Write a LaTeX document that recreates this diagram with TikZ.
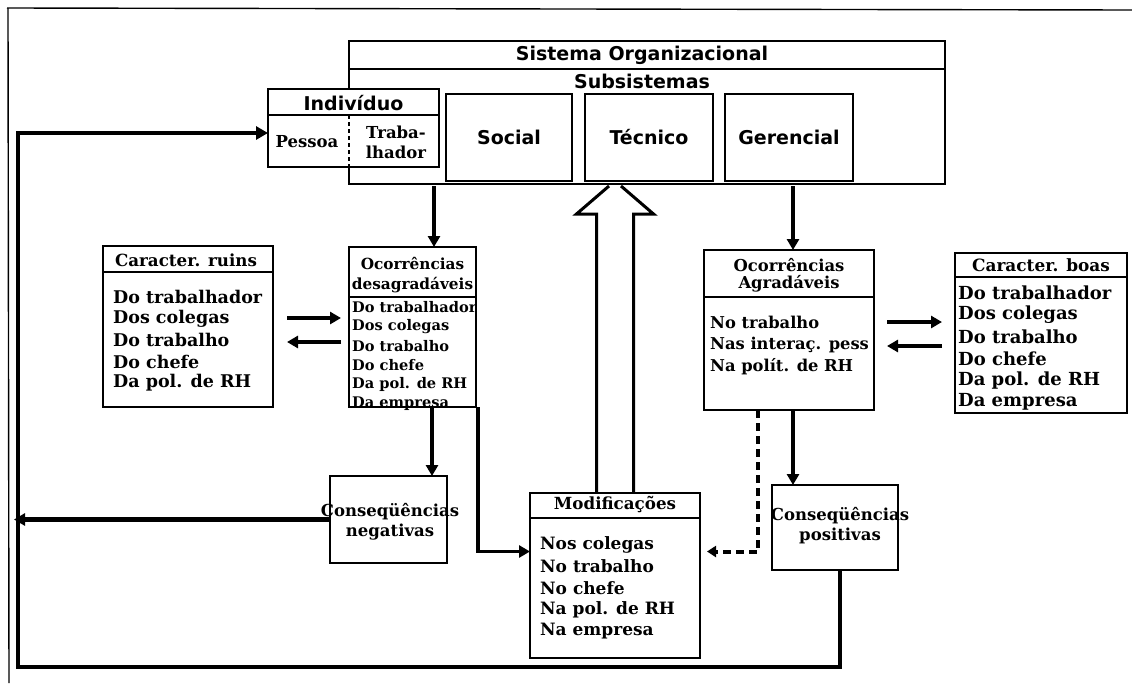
\documentclass[tikz,border=0pt]{standalone}
\usepackage{fontspec}
\newfontfamily\sansfam{DejaVu Sans}
\newfontfamily\serfam{DejaVu Serif}
\usetikzlibrary{arrows.meta,calc}

\tikzset{
  box/.style={draw, line width=2pt, fill=white, inner sep=0pt, outer sep=0pt},
  rule/.style={line width=2pt},
  arr/.style={line width=3.5pt, -{Triangle[length=11pt,width=12pt]}},
  loopline/.style={line width=4.5pt, -{Triangle[length=12pt,width=13pt]}},
  dashline/.style={line width=4pt, dash pattern=on 8pt off 5pt, -{Triangle[length=9pt,width=11pt]}},
  hollow/.style={line width=3pt, line join=miter},
  sanst/.style={font=\sansfam\bfseries\fontsize{19}{21}\selectfont, inner sep=0pt},
  ser/.style={font=\serfam\bfseries\fontsize{#1}{20}\selectfont, inner sep=0pt},
  item/.style={ser=#1, anchor=west},
}

\begin{document}
\begin{tikzpicture}[x=1pt,y=-1pt]
\useasboundingbox (0,0) rectangle (1132,683);

% outer frame (top and left edges)
\draw[line width=1.4pt] (7,8) -- (1132,10);
\draw[line width=1.4pt] (8,8) -- (9,683);

% organisational system with its subsystems
\node[box, minimum width=596pt, minimum height=143pt] (sis) at (647,112.5) {};
\draw[rule] ($(sis.north west)+(0,28)$) -- ($(sis.north east)+(0,28)$);
\node[sanst] (sisT) at (642,55) {Sistema Organizacional};
\node[sanst] (subT) at (642,81) {Subsistemas};

\node[box, minimum width=126pt, minimum height=87pt] (soc) at (509,137.5) {};
\node[box, minimum width=128pt, minimum height=87pt] (tec) at (649,137.5) {};
\node[box, minimum width=128pt, minimum height=87pt] (ger) at (789,137.5) {};
\node[sanst] (socT) at (soc) {Social};
\node[sanst] (tecT) at (tec) {Técnico};
\node[sanst] (gerT) at (ger) {Gerencial};

% individual: person / worker
\node[box, minimum width=171pt, minimum height=78pt] (ind) at (353.5,128) {};
\draw[rule] ($(ind.north west)+(0,26)$) -- ($(ind.north east)+(0,26)$);
\draw[line width=1.5pt, dash pattern=on 4pt off 3pt] ($(ind.north west)+(81,26)$) -- ($(ind.south west)+(81,0)$);
\node[sanst] (indT) at (353.5,103) {Indivíduo};
\node[ser=16.5] (pesT) at (307,142) {Pessoa};
\node[ser=16.5, align=center] (trabT) at (396,142) {Traba-\\lhador};

% bad characteristics
\node[box, minimum width=170pt, minimum height=161pt] (ruins) at (188,326.5) {};
\draw[rule] ($(ruins.north west)+(0,26)$) -- ($(ruins.north east)+(0,26)$);
\node[ser=16.7] (ruinsH) at (186,260) {Caracter. ruins};
\foreach \t [count=\i] in {Do trabalhador, Dos colegas, Do trabalho, Do chefe, Da pol. de RH}
  \node[item=17.5] (ruins-\i) at (113,{297+21.5*(\i-1)}) {\t};

% unpleasant occurrences
\node[box, minimum width=127pt, minimum height=160pt] (ocd) at (412.5,327) {};
\draw[rule] ($(ocd.north west)+(0,50)$) -- ($(ocd.north east)+(0,50)$);
\node[ser=15.3] (ocdH1) at (412.5,263) {Ocorrências};
\node[ser=15.3] (ocdH2) at (412.5,285) {desagradáveis};
\foreach \t [count=\i] in {Do trabalhador, Dos colegas, Do trabalho, Do chefe, Da pol. de RH, Da empresa}
  \node[item=14.6] (ocd-\i) at (352,{307+19.3*(\i-1)}) {\t};

% pleasant occurrences
\node[box, minimum width=170pt, minimum height=160pt] (agr) at (789,330) {};
\draw[rule] ($(agr.north west)+(0,47)$) -- ($(agr.north east)+(0,47)$);
\node[ser=16.4] (agrH1) at (789,265) {Ocorrências};
\node[ser=16.4] (agrH2) at (789,284) {Agradáveis};
\foreach \t [count=\i] in {No trabalho, Nas interaç. pess, Na polít. de RH}
  \node[item=16.3] (agr-\i) at (710,{322+22.5*(\i-1)}) {\t};

% good characteristics
\node[box, minimum width=172pt, minimum height=160pt] (boas) at (1041,333) {};
\draw[rule] ($(boas.north west)+(0,24)$) -- ($(boas.north east)+(0,24)$);
\node[ser=16.9] (boasH) at (1041,265) {Caracter. boas};
\foreach \t [count=\i] in {Do trabalhador, Dos colegas, Do trabalho, Do chefe, Da pol. de RH, Da empresa}
  \node[item=18] (boas-\i) at (958,{293+21.8*(\i-1)}) {\t};

% consequences
\node[box, minimum width=117pt, minimum height=87pt] (neg) at (388.5,519.5) {};
\node[ser=16.5, align=center] (negT) at (390,522) {Conseqüências\\negativas};
\node[box, minimum width=126pt, minimum height=85pt] (pos) at (835,527.5) {};
\node[ser=16.5, align=center] (posT) at (840,526) {Conseqüências\\positivas};

% modifications
\node[box, minimum width=170pt, minimum height=165pt] (mod) at (615,575.5) {};
\draw[rule] ($(mod.north west)+(0,25)$) -- ($(mod.north east)+(0,25)$);
\node[ser=16.7] (modH) at (615,505) {Modificações};
\foreach \t [count=\i] in {Nos colegas, No trabalho, No chefe, Na pol. de RH, Na empresa}
  \node[item=17] (mod-\i) at (540,{545+21.6*(\i-1)}) {\t};

% connectors
\draw[arr] ($(ocd.north)+(21.5,-61)$) -- ($(ocd.north)+(21.5,0)$);
\draw[arr] ($(agr.north)+(4,-64)$) -- ($(agr.north)+(4,0)$);

\draw[arr] ($(ruins.east)+(14,-8.5)$) -- ($(ocd.west)+(-8,-9)$);
\draw[arr] ($(ocd.west)+(-8,15)$) -- ($(ruins.east)+(14,15.5)$);
\draw[arr] ($(agr.east)+(13,-8)$) -- ($(boas.west)+(-13,-11)$);
\draw[arr] ($(boas.west)+(-13,13)$) -- ($(agr.east)+(13,16)$);

\draw[arr] ($(ocd.south)+(19.5,0)$) -- ($(neg.north)+(43.5,0)$);
\draw[arr] ($(ocd.south east)+(2,0)$) |- ($(mod.west)+(0,-24)$);
\draw[dashline] ($(agr.south)+(-31,0)$) |- ($(mod.east)+(7,-24)$);
\draw[arr] ($(agr.south)+(4,0)$) -- ($(pos.north)+(-42,0)$);

% hollow arrow from the modifications up to the system
\draw[hollow] ($(mod.north)+(-18.5,0)$) -- ($(mod.north)+(-18.5,-279)$) -- ($(mod.north)+(-38.5,-279)$) -- ($(mod.north)+(-6,-307)$);
\draw[hollow] ($(mod.north)+(18.5,0)$) -- ($(mod.north)+(18.5,-279)$) -- ($(mod.north)+(38.5,-279)$) -- ($(mod.north)+(6,-307)$);

% feedback loop back to the individual
\coordinate (lb) at (18,667);
\draw[loopline] ($(pos.south)+(5,0)$) |- (lb) |- ($(ind.west)+(0,5)$);
\draw[arr, line width=4.5pt] (neg.west) -- ($(neg.west -| lb)+(-4,0)$);
\end{tikzpicture}
\end{document}
